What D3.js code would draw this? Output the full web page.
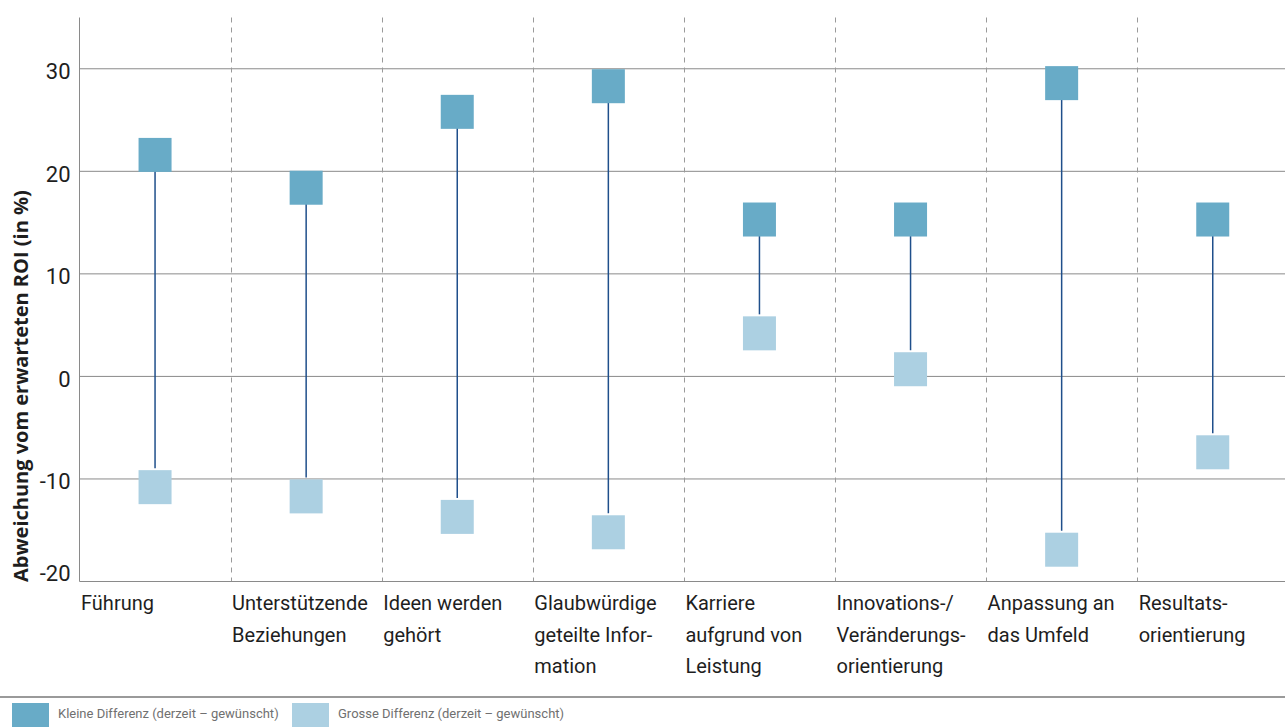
<!DOCTYPE html>
<html>
<head>
<meta charset="utf-8">
<script src="https://cdn.jsdelivr.net/npm/d3@7"></script>
<style>
  html, body { margin: 0; padding: 0; background: #fff; }
  svg { display: block; }
</style>
</head>
<body>
<svg id="chart" width="1285" height="727"></svg>
<script>
// ---- data ----
const categories = [
  "Führung",
  "Unterstützende Beziehungen",
  "Ideen werden gehört",
  "Glaubwürdige geteilte Information",
  "Karriere aufgrund von Leistung",
  "Innovations-/Veränderungsorientierung",
  "Anpassung an das Umfeld",
  "Resultatsorientierung"
];
const categoryLabelLines = [
  ["Führung"],
  ["Unterstützende", "Beziehungen"],
  ["Ideen werden", "gehört"],
  ["Glaubwürdige", "geteilte Infor-", "mation"],
  ["Karriere", "aufgrund von", "Leistung"],
  ["Innovations-/", "Veränderungs-", "orientierung"],
  ["Anpassung an", "das Umfeld"],
  ["Resultats-", "orientierung"]
];
const kleineDifferenz = [21.6, 18.4, 25.8, 28.3, 15.3, 15.3, 28.6, 15.3];
const grosseDifferenz = [-10.8, -11.7, -13.7, -15.2, 4.2, 0.7, -16.9, -7.4];
const yTicks = [-20, -10, 0, 10, 20, 30];
const gridValues = [-10, 0, 10, 20, 30];
const seriesNames = ["Kleine Differenz (derzeit – gewünscht)", "Grosse Differenz (derzeit – gewünscht)"];
const yTitle = "Abweichung vom erwarteten ROI (in %)";

// ---- styles ----
const colDark = "#68abc7";
const colLight = "#acd0e2";
const colStem = "#1f4f8b";
const colGrid = "#8a8a8a";
const W = 1285, H = 727;
const plotLeft = 79.5, plotTop = 17.5, plotBottom = 581.5;
const bandW = 151.1;

const svg = d3.select("#chart");
svg.append("rect").attr("width", W).attr("height", H).attr("fill", "#fff");

const y = d3.scaleLinear().domain([-20, 35]).range([plotBottom, plotTop]);
const x = d3.scaleBand().domain(categories).range([plotLeft, plotLeft + bandW * categories.length]).padding(0);

// horizontal grid
svg.append("g").selectAll("line").data(gridValues).join("line")
  .attr("x1", plotLeft).attr("x2", W)
  .attr("y1", d => y(d)).attr("y2", d => y(d))
  .attr("stroke", colGrid).attr("stroke-width", 1);

// dashed category separators
svg.append("g").selectAll("line").data(categories.slice(1)).join("line")
  .attr("x1", d => Math.round(x(d)) + 0.5).attr("x2", d => Math.round(x(d)) + 0.5)
  .attr("y1", plotTop).attr("y2", plotBottom)
  .attr("stroke", "#9a9a9a").attr("stroke-width", 1)
  .attr("stroke-dasharray", "5,5");

// axes lines
svg.append("line").attr("x1", plotLeft).attr("x2", plotLeft).attr("y1", plotTop).attr("y2", plotBottom)
  .attr("stroke", "#8a8a8a").attr("stroke-width", 1);
svg.append("line").attr("x1", plotLeft).attr("x2", W).attr("y1", plotBottom).attr("y2", plotBottom)
  .attr("stroke", "#8a8a8a").attr("stroke-width", 1);

// y tick labels
const yAxis = d3.axisLeft(y).tickValues(yTicks).tickSize(0).tickPadding(9).tickFormat(d => String(d));
const yg = svg.append("g").attr("transform", `translate(${plotLeft},0)`).call(yAxis);
yg.select(".domain").remove();
yg.selectAll("text")
  .attr("font-family", "Roboto, sans-serif").attr("font-size", 22).attr("fill", "#1e1e1e")
  .attr("dy", "0.45em")
  .attr("y", d => d === yTicks[0] ? -11 : 0);

// y title
svg.append("text")
  .attr("transform", `translate(28,582) rotate(-90)`)
  .attr("text-anchor", "start")
  .attr("font-family", "'Open Sans', sans-serif").attr("font-weight", "bold").attr("font-size", 20)
  .attr("fill", "#1e1e1e")
  .text(yTitle);

// category labels
const lab = svg.append("g").selectAll("text").data(categories).join("text")
  .attr("x", d => x(d) + 1.5)
  .attr("y", 610)
  .attr("font-family", "Roboto, sans-serif").attr("font-size", 20).attr("fill", "#1e1e1e");
lab.each(function(d, i) {
  d3.select(this).selectAll("tspan").data(categoryLabelLines[i]).join("tspan")
    .attr("x", x(d) + 1.5)
    .attr("dy", (t, j) => j === 0 ? 0 : 31.7)
    .text(t => t);
});

// markers
const sqW = 33, sqH = 34;
const cx = d => x(d) + x.bandwidth() / 2;
const g = svg.append("g");
g.selectAll("line.stem").data(categories).join("line").attr("class", "stem")
  .attr("x1", d => cx(d)).attr("x2", d => cx(d))
  .attr("y1", (d, i) => y(kleineDifferenz[i]))
  .attr("y2", (d, i) => y(grosseDifferenz[i]) - sqH / 2 - 2)
  .attr("stroke", colStem).attr("stroke-width", 1.5);
g.selectAll("rect.dark").data(categories).join("rect").attr("class", "dark")
  .attr("x", d => cx(d) - sqW / 2).attr("width", sqW)
  .attr("y", (d, i) => y(kleineDifferenz[i]) - sqH / 2).attr("height", sqH)
  .attr("fill", colDark);
g.selectAll("rect.light").data(categories).join("rect").attr("class", "light")
  .attr("x", d => cx(d) - sqW / 2).attr("width", sqW)
  .attr("y", (d, i) => y(grosseDifferenz[i]) - sqH / 2).attr("height", sqH)
  .attr("fill", colLight);

// legend
svg.append("line").attr("x1", 0).attr("x2", W).attr("y1", 697).attr("y2", 697)
  .attr("stroke", "#9a9a9a").attr("stroke-width", 2);
const legendX = [12, 292];
const legendCols = [colDark, colLight];
const lg = svg.append("g").selectAll("g").data(seriesNames).join("g")
  .attr("transform", (d, i) => `translate(${legendX[i]},703)`);
lg.append("rect").attr("width", 37).attr("height", 30).attr("fill", (d, i) => legendCols[i]);
lg.append("text").attr("x", 46).attr("y", 15)
  .attr("font-family", "Roboto, sans-serif").attr("font-size", 13).attr("fill", "#707070")
  .text(d => d);
</script>
</body>
</html>
